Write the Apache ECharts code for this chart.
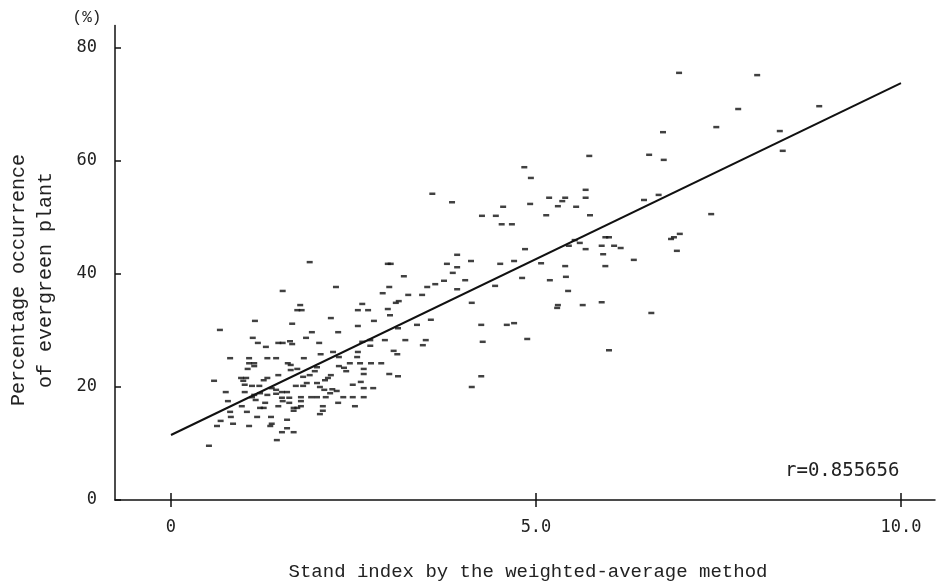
<!DOCTYPE html>
<html>
<head>
<meta charset="utf-8">
<script src="https://cdn.jsdelivr.net/npm/echarts@6/dist/echarts.min.js"></script>
<style>
html,body{margin:0;padding:0;background:#fff;}
#chart{width:937px;height:588px;}
</style>
</head>
<body>
<div id="chart"></div>
<script>
// Scatter points: [stand index, percentage occurrence of evergreen plant]
const points = [
[6.96,75.6],[8.03,75.2],[7.77,69.2],[8.88,69.7],[7.47,66.0],[6.74,65.1],[8.34,65.3],[6.55,61.1],[6.75,60.2],[8.38,61.8],
[6.48,53.1],[6.68,54.0],[7.40,50.6],[6.97,47.1],[6.89,46.5],[6.85,46.2],[6.93,44.1],[6.34,42.5],[6.58,33.1],
[5.73,60.9],[4.84,58.9],[4.93,57.0],[5.68,54.9],[5.18,53.5],[5.40,53.5],[5.68,53.5],[5.36,52.9],[4.92,52.4],[4.55,51.9],
[5.30,52.0],[5.55,51.9],[4.26,50.3],[4.45,50.3],[5.14,50.4],[5.74,50.4],[4.53,48.8],[4.67,48.8],[5.95,46.5],[6.00,46.5],
[5.53,46.0],[5.60,45.5],[5.45,45.0],[5.90,45.0],[6.07,45.0],[6.16,44.6],[4.85,44.4],[5.68,44.4],[5.92,43.5],[4.11,42.3],
[4.70,42.3],[4.51,41.8],[5.07,41.9],[5.95,41.4],[5.40,41.4],[4.81,39.3],[5.41,39.5],[5.19,38.9],[4.44,37.9],[5.44,37.0],
[4.12,34.9],[5.30,34.5],[5.29,34.0],[5.64,34.5],[5.90,35.0],[4.25,31.0],[4.60,31.0],[4.70,31.3],[4.27,28.0],[4.88,28.5],[6.00,26.5],
[3.58,54.2],[3.85,52.7],[3.92,43.4],[3.78,41.8],[3.92,41.2],[2.97,41.8],[3.01,41.8],[3.86,40.2],[3.19,39.6],[3.74,38.8],
[4.03,38.9],[3.51,37.7],[3.62,38.2],[3.92,37.3],[2.26,37.7],[2.99,37.7],[2.90,36.6],[3.25,36.3],[3.44,36.3],[3.12,35.2],
[2.62,34.7],[3.08,34.9],[2.56,33.6],[2.70,33.6],[2.97,33.8],[3.00,32.7],[2.78,31.7],[3.37,31.0],[3.56,31.9],[2.56,30.8],
[3.11,30.4],[2.19,32.2],[2.29,29.7],[2.62,28.0],[2.73,28.3],[2.93,28.3],[3.21,28.3],[3.49,28.3],[3.45,27.4],[2.73,27.3],
[2.22,26.2],[2.56,26.2],[3.05,26.4],[3.10,25.8],[2.55,25.3],[2.30,25.3],[2.45,24.2],[2.59,24.2],[2.74,24.2],[2.88,24.2],
[2.30,23.7],[2.37,23.4],[2.64,23.2],[2.40,22.8],[2.64,22.3],[2.99,22.3],[3.11,21.9],[2.19,22.1],[4.25,21.9],
[1.53,37.0],[1.77,34.5],[1.73,33.6],[1.79,33.6],[1.15,31.7],[1.66,31.2],[0.67,30.1],[1.93,29.7],[1.12,28.7],[1.85,28.7],
[1.19,27.8],[1.47,27.8],[1.53,27.8],[1.63,28.1],[1.66,27.6],[2.03,27.8],[1.30,27.1],[0.81,25.1],[1.07,25.1],[1.32,25.1],
[1.44,25.1],[1.82,25.1],[2.05,25.8],[1.07,24.2],[1.14,24.2],[1.60,24.2],[1.64,23.9],[1.14,23.7],[1.05,23.2],[1.73,23.2],
[1.64,23.0],[2.00,23.5],[1.97,22.8],[1.47,22.1],[1.81,21.8],[1.90,22.1],[2.15,21.6],[0.59,21.1],[0.96,21.6],[0.99,21.1],
[1.32,21.6],[1.86,20.7],[2.11,21.2],[1.01,20.4],[1.11,20.2],[1.21,20.2],[1.38,19.8],[1.44,19.5],[1.71,20.2],[1.81,20.2],
[2.00,20.7],[2.04,20.0],[2.10,19.5],[2.21,19.6],[2.27,19.3],[0.75,19.1],[1.01,19.1],[1.22,18.9],[1.52,19.1],[1.59,19.1],
[2.18,18.9],[1.14,18.6],[1.32,18.6],[1.44,18.8],[1.11,18.2],[1.52,18.1],[1.62,18.1],[1.78,18.2],[1.92,18.2],[2.00,18.2],
[2.12,18.2],[2.36,18.2],[0.78,17.5],[1.16,17.7],[1.53,17.5],[1.62,17.2],[1.78,17.5],[2.29,17.2],[1.29,17.2],[0.97,16.6],
[1.47,16.6],[1.78,16.6],[2.08,16.6],[1.22,16.3],[1.27,16.3],[1.68,16.3],[1.73,16.3],[0.81,15.6],[1.04,15.6],[1.68,15.8],
[2.08,15.8],[2.04,15.2],[0.82,14.7],[1.18,14.7],[1.37,14.7],[0.68,14.0],[1.59,14.2],[0.85,13.5],[1.38,13.5],[0.63,13.1],
[1.07,13.1],[1.36,13.1],[1.59,12.7],[1.52,12.0],[1.68,12.0],[1.45,10.6],[0.52,9.6],
[1.03,21.6],[1.27,21.2],[1.90,42.1],[2.60,20.9],[2.49,20.4],[2.64,19.8],[2.77,19.8],[2.49,18.2],[2.64,18.2],[2.52,16.6],[4.12,20.0]
];
// Regression line end points
const lineX = [0, 10];
const lineY = [11.5, 73.8];
const xTicks = [0, 5, 10];
const xTickLabels = ['0', '5.0', '10.0'];
const yTicks = [0, 20, 40, 60, 80];
const yTickLabels = ['0', '20', '40', '60', '80'];
const xTitle = 'Stand index by the weighted-average method';
const yTitle = ['Percentage occurrence', 'of evergreen plant'];
const unitText = '(%)';
const rText = 'r=0.855656';

const FONT = '"Liberation Mono", "DejaVu Sans Mono", monospace';
const NUMFONT = '"DejaVu Sans Mono", "Liberation Mono", monospace';
const chart = echarts.init(document.getElementById('chart'), null, {renderer: 'canvas'});
const xLabelMap = {}; xTicks.forEach((v, i) => xLabelMap[v] = xTickLabels[i]);
const yLabelMap = {}; yTicks.forEach((v, i) => yLabelMap[v] = yTickLabels[i]);

chart.setOption({
  animation: false,
  backgroundColor: '#fff',
  grid: {left: 115, right: 2, top: 25.4, bottom: 88, containLabel: false},
  xAxis: [{
    type: 'value', min: -0.767, max: 10.466,
    splitLine: {show: false},
    axisLine: {show: true, onZero: false, lineStyle: {color: '#111', width: 1.5}},
    axisTick: {show: true, customValues: xTicks, length: 7, lineStyle: {color: '#111', width: 1.5}},
    axisLabel: {show: true, customValues: xTicks, formatter: v => xLabelMap[v] ?? '', margin: 19,
      fontFamily: NUMFONT, fontSize: 17, color: '#222'}
  }, {
    type: 'value', min: -0.767, max: 10.466, position: 'bottom',
    splitLine: {show: false},
    axisLine: {show: false},
    axisTick: {show: true, inside: true, customValues: xTicks, length: 7, lineStyle: {color: '#111', width: 1.5}},
    axisLabel: {show: false}
  }],
  yAxis: {
    type: 'value', min: 0, max: 84,
    splitLine: {show: false},
    axisLine: {show: true, onZero: false, lineStyle: {color: '#111', width: 1.5}},
    axisTick: {show: true, inside: true, customValues: yTicks, length: 6, lineStyle: {color: '#111', width: 1.5}},
    axisLabel: {show: true, customValues: yTicks, formatter: v => yLabelMap[v] ?? '', margin: 18,
      fontFamily: NUMFONT, fontSize: 17, color: '#222'}
  },
  series: [{
    type: 'scatter',
    data: points,
    symbol: 'rect',
    symbolSize: [6, 2.5],
    itemStyle: {color: '#111'},
    silent: true
  }, {
    type: 'line',
    data: lineX.map((x, i) => [x, lineY[i]]),
    showSymbol: false,
    lineStyle: {color: '#111', width: 2},
    silent: true
  }],
  graphic: [
    {type: 'text', x: 528, y: 572, style: {text: xTitle, font: '19px ' + FONT, fill: '#222', textAlign: 'center', textVerticalAlign: 'middle'}},
    {type: 'text', x: 32, y: 280, rotation: Math.PI / 2,
      style: {text: yTitle.join('\n'), font: '20px ' + FONT, fill: '#222', textAlign: 'center', textVerticalAlign: 'middle', lineHeight: 27}},
    {type: 'text', x: 87, y: 18, style: {text: unitText, font: '16px ' + FONT, fill: '#222', textAlign: 'center', textVerticalAlign: 'middle'}},
    {type: 'text', x: 785, y: 471, style: {text: rText, font: '19px ' + NUMFONT, fill: '#222', textAlign: 'left', textVerticalAlign: 'middle'}}
  ]
});
</script>
</body>
</html>
